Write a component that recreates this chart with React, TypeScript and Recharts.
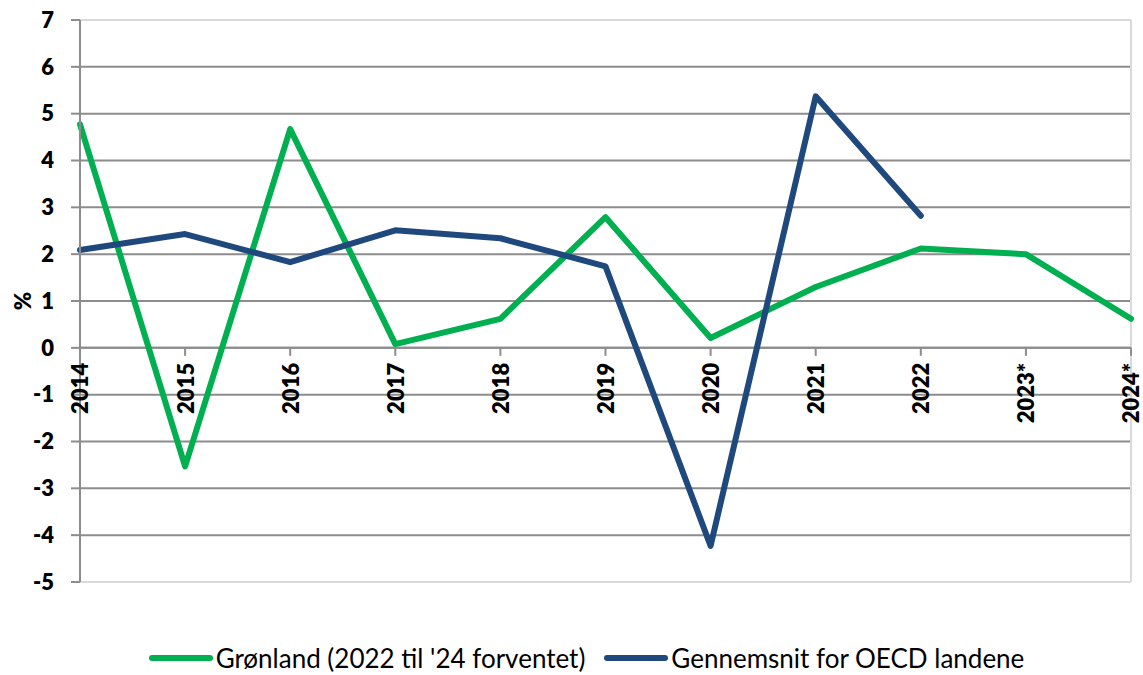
import React from 'react';
import { LineChart, Line, XAxis, YAxis, CartesianGrid, ReferenceLine, Legend } from 'recharts';

// Values (percent)
const years = ['2014', '2015', '2016', '2017', '2018', '2019', '2020', '2021', '2022', '2023*', '2024*'];
const greenland = [4.77, -2.53, 4.67, 0.08, 0.62, 2.79, 0.21, 1.3, 2.12, 2.0, 0.62];
const oecd = [2.09, 2.43, 1.83, 2.51, 2.34, 1.74, -4.23, 5.37, 2.82, null, null];
const yTicks = [7, 6, 5, 4, 3, 2, 1, 0, -1, -2, -3, -4, -5];
const seriesNames = ["Grønland (2022 til '24 forventet)", 'Gennemsnit for OECD landene'];

const GREEN = '#00B050';
const BLUE = '#1F497D';
const GRID = '#8C8C8C';
const LIGHT = '#D9D9D9';
const FONT = 'Lato, "Open Sans", "DejaVu Sans", sans-serif';

const WIDTH = 1143;
const HEIGHT = 675;
const MARGIN = { top: 20, right: 12, bottom: 0, left: 0 };
const Y_AXIS_W = 80;
const X_AXIS_H = 53;
const LEGEND_H = 40;
const Y_MIN = -5;
const Y_MAX = 7;

// plot area vertical extent, used to put the category labels on the zero line
const PLOT_TOP = MARGIN.top;
const PLOT_H = HEIGHT - MARGIN.top - MARGIN.bottom - X_AXIS_H - LEGEND_H;
const ZERO_Y = PLOT_TOP + (PLOT_H * Y_MAX) / (Y_MAX - Y_MIN);

const data = years.map((year, i) => ({
  year,
  greenland: greenland[i],
  oecd: oecd[i],
}));

const XTick = (props: any) => {
  const { x, payload } = props;
  const ty = ZERO_Y + 15;
  return (
    <g>
      <line x1={x} x2={x} y1={ZERO_Y} y2={ZERO_Y + 8} stroke={GRID} strokeWidth={2} />
      <text
        x={x}
        y={ty}
        transform={`rotate(-90, ${x}, ${ty})`}
        textAnchor="end"
        dominantBaseline="central"
        fontFamily={FONT}
        fontWeight={800}
        fontSize={22}
        fill="#000"
      >
        {payload.value}
      </text>
    </g>
  );
};

const YLabel = () => (
  <text
    x={22}
    y={301}
    transform="rotate(-90, 22, 301)"
    textAnchor="middle"
    dominantBaseline="central"
    fontFamily={FONT}
    fontWeight={800}
    fontSize={22}
    fill="#000"
  >
    %
  </text>
);

const renderLegend = (props: any) => {
  const payload = [...props.payload].sort(
    (a: any, b: any) => seriesNames.indexOf(a.value) - seriesNames.indexOf(b.value)
  );
  return (
    <div
      style={{
        display: 'flex',
        justifyContent: 'center',
        alignItems: 'center',
        height: LEGEND_H,
        paddingTop: 6,
        boxSizing: 'border-box',
        fontFamily: FONT,
        fontSize: 26,
        color: '#000',
      }}
    >
      {payload.map((entry: any, i: number) => (
        <span key={i} style={{ display: 'flex', alignItems: 'center', marginRight: i === 0 ? 18 : 0 }}>
          <svg width={66} height={10} style={{ marginRight: 2 }}>
            <line x1={4} x2={62} y1={5} y2={5} stroke={entry.color} strokeWidth={6} strokeLinecap="round" />
          </svg>
          {entry.value}
        </span>
      ))}
    </div>
  );
};

export default function App() {
  return (
    <div style={{ position: 'absolute', left: 0, top: 0, background: '#fff' }}>
      <LineChart width={WIDTH} height={HEIGHT} data={data} margin={MARGIN}>
        <CartesianGrid vertical={false} stroke={GRID} strokeWidth={2} />
        <XAxis
          dataKey="year"
          height={X_AXIS_H}
          padding={{ left: 0, right: 0 }}
          axisLine={false}
          tickLine={false}
          tick={<XTick />}
          interval={0}
        />
        <YAxis
          width={Y_AXIS_W}
          domain={[Y_MIN, Y_MAX]}
          ticks={yTicks}
          interval={0}
          axisLine={{ stroke: GRID, strokeWidth: 2 }}
          tickLine={{ stroke: GRID, strokeWidth: 2 }}
          tickSize={9}
          tickMargin={17}
          tick={{ fontFamily: FONT, fontWeight: 800, fontSize: 22, fill: '#000' }}
          label={<YLabel />}
        />
        <ReferenceLine y={Y_MAX} stroke={LIGHT} strokeWidth={2} />
        <ReferenceLine y={Y_MIN} stroke={LIGHT} strokeWidth={2} />
        <ReferenceLine x="2024*" stroke={LIGHT} strokeWidth={2} />
        <ReferenceLine y={0} stroke={GRID} strokeWidth={2} />
        <Legend
          verticalAlign="bottom"
          height={LEGEND_H}
          content={renderLegend}
          wrapperStyle={{ left: 40, width: 1092 }}
        />
        <Line
          type="linear"
          dataKey="greenland"
          name={seriesNames[0]}
          stroke={GREEN}
          strokeWidth={6}
          strokeLinecap="round"
          strokeLinejoin="round"
          dot={false}
          activeDot={false}
          isAnimationActive={false}
        />
        <Line
          type="linear"
          dataKey="oecd"
          name={seriesNames[1]}
          stroke={BLUE}
          strokeWidth={6}
          strokeLinecap="round"
          strokeLinejoin="round"
          dot={false}
          activeDot={false}
          isAnimationActive={false}
        />
      </LineChart>
    </div>
  );
}
